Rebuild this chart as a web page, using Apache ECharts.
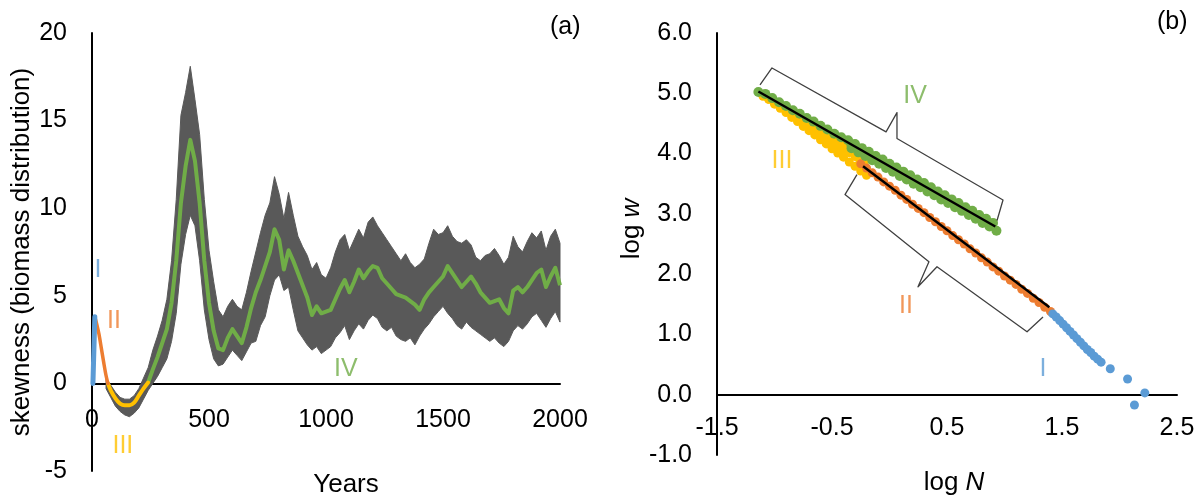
<!DOCTYPE html>
<html><head><meta charset="utf-8">
<script src="https://cdn.jsdelivr.net/npm/echarts@6/dist/echarts.min.js"></script>
<style>html,body{margin:0;padding:0;background:#fff}#c{width:1203px;height:500px}</style>
</head><body><div id="c"></div>
<script>
// ---------- Panel (a) data ----------
const aBandYears = [60,80,100,120,140,160,180,200,220,240,260,280,300,320,340,360,380,400,420,440,460,480,500,520,540,560,580,600,620,640,660,680,700,720,740,760,780,800,820,840,860,880,900,920,940,960,980,1000,1020,1040,1060,1080,1100,1120,1140,1160,1180,1200,1220,1240,1260,1280,1300,1320,1340,1360,1380,1400,1420,1440,1460,1480,1500,1520,1540,1560,1580,1600,1620,1640,1660,1680,1700,1720,1740,1760,1780,1800,1820,1840,1860,1880,1900,1920,1940,1960,1980,2000];
const aBandLower = [-0.3,-0.8,-1.3,-1.6,-1.8,-1.9,-1.7,-1.4,-0.9,-0.4,0.0,0.4,0.9,1.4,2.4,4.0,6.8,8.5,9.6,9.0,7.0,4.2,2.5,1.4,1.0,1.1,1.5,1.9,1.6,1.3,1.8,2.3,2.4,3.3,3.8,5.0,5.9,6.2,5.3,5.5,4.2,3.0,2.6,2.2,1.9,2.1,1.7,1.9,2.1,2.6,2.9,3.3,2.5,3.0,3.4,3.1,3.6,3.9,3.7,3.2,3.0,3.2,2.7,2.5,2.4,2.6,2.2,2.7,3.1,3.4,3.8,4.1,4.4,4.0,3.7,3.3,3.1,3.5,3.2,3.0,2.8,2.6,2.4,2.6,2.3,2.1,2.4,3.0,3.3,3.1,3.4,3.8,4.0,3.6,3.2,3.7,4.1,3.5];
const aBandUpper = [0.3,-0.1,-0.5,-0.8,-0.9,-0.9,-0.7,-0.3,0.3,0.9,1.9,2.7,3.6,4.8,7.0,10.5,15.3,16.6,18.1,16.2,14.2,10.5,7.6,5.8,4.2,3.8,4.4,4.8,4.4,4.2,5.2,6.4,7.5,8.6,9.6,10.3,11.8,10.8,9.4,10.9,9.6,8.4,7.8,7.3,6.5,6.9,6.2,6.0,6.6,7.5,8.2,8.5,7.6,8.2,8.8,8.3,9.2,9.5,9.0,8.6,8.2,7.8,7.4,7.0,7.4,6.9,6.6,6.8,7.1,8.0,8.8,8.5,8.6,9.0,8.4,8.1,8.0,8.2,7.9,7.2,7.0,7.3,7.4,7.7,7.3,6.8,7.2,8.4,7.8,7.5,8.1,8.6,8.3,8.7,7.6,8.4,8.8,8.0];
const aMeanYears = [240,260,280,300,320,340,360,380,400,420,440,460,480,500,520,540,560,580,600,620,640,660,680,700,720,740,760,780,800,820,840,860,880,900,920,940,960,980,1000,1020,1040,1060,1080,1100,1120,1140,1160,1180,1200,1220,1240,1260,1280,1300,1320,1340,1360,1380,1400,1420,1440,1460,1480,1500,1520,1540,1560,1580,1600,1620,1640,1660,1680,1700,1720,1740,1760,1780,1800,1820,1840,1860,1880,1900,1920,1940,1960,1980,2000];
const aMean = [0.05,0.8,1.5,2.3,3.1,4.6,7.0,10.3,12.4,13.9,12.7,10.3,7.0,4.6,3.0,2.0,1.9,2.6,3.1,2.7,2.3,3.2,4.3,5.2,5.9,6.7,7.5,8.8,8.2,6.5,7.6,7.0,6.3,5.6,4.9,3.9,4.4,4.0,4.1,4.2,4.8,5.4,5.9,5.2,5.8,6.5,6.0,6.4,6.7,6.6,6.0,5.7,5.4,5.1,5.0,4.9,4.7,4.5,4.2,4.8,5.2,5.5,5.8,6.1,6.7,6.3,5.9,5.5,5.8,6.1,5.7,5.2,4.9,4.6,4.7,4.8,4.3,4.0,5.3,5.5,5.2,5.5,5.9,6.3,6.5,5.5,6.1,6.6,5.6];
const aPhaseI = [[4,0.0],[8,1.9],[12,3.8]];
const aPhaseII = [[12,3.8],[20,3.4],[30,2.8],[40,2.0],[50,1.2],[60,0.45],[68,0.0]];
const aPhaseIII = [[68,0.0],[80,-0.4],[100,-0.85],[120,-1.15],[140,-1.25],[160,-1.25],[180,-1.1],[200,-0.7],[220,-0.3],[240,0.05]];
const aLabelText = ['I','II','III','IV'];
const aLabelPos = [[26,6.46],[94,3.54],[132,-3.6],[1085,0.8]];

// ---------- Panel (b) data ----------
const bYellow = [[-1.10,4.95],[-1.05,4.90],[-1.0,4.85],[-0.95,4.80],[-0.9,4.74],[-0.85,4.69],[-0.8,4.63],[-0.75,4.58],[-0.7,4.52],[-0.65,4.47],[-0.6,4.41],[-0.55,4.36],[-0.5,4.30],[-0.45,4.25],[-0.4,4.20],[-0.35,4.14],[-0.3,4.09],[-0.25,4.04],
  [-1.0,4.85],[-0.95,4.785],[-0.9,4.72],[-0.85,4.655],[-0.8,4.59],[-0.75,4.525],[-0.7,4.46],[-0.65,4.395],[-0.6,4.33],[-0.55,4.265],[-0.5,4.20],[-0.45,4.14],[-0.4,4.08],[-0.35,4.015],[-0.3,3.95],[-0.26,3.90],[-0.22,3.85],
  [-1.05,4.90],[-1.0,4.82],[-0.95,4.75],[-0.9,4.68],[-0.85,4.60],[-0.8,4.53],[-0.75,4.45],[-0.7,4.38],[-0.65,4.31],[-0.6,4.23],[-0.55,4.16],[-0.5,4.08],[-0.45,4.01],[-0.4,3.94],[-0.35,3.86],[-0.3,3.79],[-0.25,3.71],[-0.2,3.64]];
const bOrange = [[-0.25,3.83],[-0.20,3.76],[-0.15,3.68],[-0.10,3.61],[-0.05,3.53],[0.00,3.46],[0.05,3.39],[0.10,3.31],[0.15,3.24],[0.20,3.16],[0.25,3.09],[0.30,3.02],[0.35,2.94],[0.40,2.87],[0.45,2.79],[0.50,2.72],[0.55,2.64],[0.60,2.57],[0.65,2.50],[0.70,2.42],[0.75,2.35],[0.80,2.27],[0.85,2.20],[0.90,2.12],[0.95,2.05],[1.00,1.97],[1.05,1.90],[1.10,1.83],[1.15,1.75],[1.20,1.68],[1.25,1.60],[1.30,1.53],[1.35,1.45],[1.40,1.38]];
const bGreen = [[-1.14,5.02],[-1.08,4.99],[-1.02,4.92],[-0.96,4.85],[-0.90,4.79],[-0.84,4.72],[-0.78,4.66],[-0.72,4.59],[-0.66,4.53],[-0.60,4.46],[-0.54,4.40],[-0.48,4.33],[-0.42,4.27],
  [-0.36,4.22],[-0.30,4.16],[-0.24,4.09],[-0.18,4.03],[-0.12,3.96],[-0.06,3.90],[0.00,3.83],[0.06,3.77],[0.12,3.70],[0.18,3.64],[0.24,3.57],[0.30,3.51],[0.36,3.44],[0.42,3.37],[0.48,3.31],[0.54,3.24],[0.60,3.18],[0.66,3.11],[0.72,3.05],[0.78,2.98],[0.84,2.92],[0.90,2.85],
  [-0.33,4.09],[-0.27,4.02],[-0.21,3.96],[-0.15,3.89],[-0.09,3.83],[-0.03,3.76],[0.03,3.70],[0.09,3.63],[0.15,3.57],[0.21,3.50],[0.27,3.44],[0.33,3.37],[0.39,3.31],[0.45,3.24],[0.51,3.18],[0.57,3.11],[0.63,3.05],[0.69,2.98],[0.75,2.92],[0.81,2.85],[0.87,2.79],[0.93,2.72],
  [-0.33,4.14],[-0.27,4.08],[-0.21,4.01],[-0.15,3.95],[-0.09,3.88],[-0.03,3.82],[0.03,3.75],[0.09,3.68],[0.15,3.62],[0.21,3.55],[0.27,3.49],[0.33,3.42],[0.39,3.36],[0.45,3.29],[0.51,3.23],[0.57,3.16],[0.63,3.10],[0.69,3.03],[0.75,2.97],[0.81,2.90],[0.87,2.84]];
const bBlue = [[1.42,1.34],[1.45,1.29],[1.48,1.23],[1.51,1.17],[1.54,1.11],[1.57,1.05],[1.60,0.99],[1.63,0.93],[1.66,0.87],[1.69,0.81],[1.72,0.75],[1.75,0.70],[1.78,0.64],[1.81,0.59],[1.84,0.54],[1.92,0.43],[2.07,0.26],[2.22,0.03],[2.13,-0.17]];
const bFitIV = [[-1.14,5.03],[0.92,2.79]];
const bFitII = [[-0.23,3.79],[1.39,1.45]];
const bBracketIV = [[-1.126,5.14],[-1.022,5.42],[-0.030,4.36],[0.065,4.68],[0.065,4.25],[0.987,3.23],[0.935,2.89]];
const bBracketII = [[-0.283,3.65],[-0.387,3.32],[0.343,2.206],[0.248,1.79],[0.413,2.123],[1.196,1.045],[1.335,1.29]];
const bLabelText = ['I','II','III','IV'];
const bLabelPos = [[1.335,0.43],[0.143,1.476],[-0.935,3.88],[0.222,4.96]];

const cBlue = '#5B9BD5', cOrange = '#ED7D31', cYellow = '#FFC000', cGreen = '#70AD47', cGray = '#595959';
const FF = '"Liberation Sans", Arial, sans-serif';
const aLabelColors = [cBlue, cOrange, cYellow, cGreen];
const bLabelColors = [cBlue, cOrange, cYellow, cGreen];

const chart = echarts.init(document.getElementById('c'), null, {renderer: 'canvas'});

// grid geometry
const GA = {left: 92, top: 33, width: 468, height: 438, yMin: -5, yMax: 20};
const GB = {left: 717, top: 33, width: 460, height: 422, yMin: -1, yMax: 6};
// offset that lifts the x axis (line, labels, name) from the grid bottom to y = 0
const offA = -GA.height * (0 - GA.yMin) / (GA.yMax - GA.yMin);
const offB = -GB.height * (0 - GB.yMin) / (GB.yMax - GB.yMin);

function axisCommon() {
  return {
    axisLine: {onZero: false, lineStyle: {color: '#000', width: 2}},
    axisTick: {show: false},
    splitLine: {show: false},
    axisLabel: {fontSize: 25, color: '#000', fontFamily: FF},
    nameTextStyle: {fontSize: 26, color: '#000', fontFamily: FF}
  };
}

const bandData = aBandYears.map((y, i) => [y, aBandLower[i], aBandUpper[i]]);

const option = {
  backgroundColor: '#fff',
  animation: false,
  textStyle: {fontFamily: FF},
  title: [
    {text: '(a)', left: 550, top: 15, padding: 0, textStyle: {fontSize: 25, fontWeight: 'normal', color: '#000', fontFamily: FF}},
    {text: '(b)', left: 1157, top: 10, padding: 0, textStyle: {fontSize: 25, fontWeight: 'normal', color: '#000', fontFamily: FF}}
  ],
  grid: [
    {left: GA.left, top: GA.top, width: GA.width, height: GA.height, containLabel: false, outerBoundsMode: 'none'},
    {left: GB.left, top: GB.top, width: GB.width, height: GB.height, containLabel: false, outerBoundsMode: 'none'}
  ],
  xAxis: [
    Object.assign(axisCommon(), {
      gridIndex: 0, type: 'value', min: 0, max: 2000, interval: 500, position: 'bottom', offset: offA,
      name: 'Years', nameLocation: 'middle', nameGap: 88,
      nameTextStyle: {fontSize: 26, color: '#000', fontFamily: FF, padding: [0, 0, 0, 40]},
      axisLabel: {fontSize: 25, color: '#000', fontFamily: FF, margin: 24, formatter: v => String(v)}
    }),
    Object.assign(axisCommon(), {
      gridIndex: 1, type: 'value', min: -1.5, max: 2.5, interval: 1, position: 'bottom', offset: offB,
      name: 'log {i|N}', nameLocation: 'middle', nameGap: 75,
      nameTextStyle: {fontSize: 26, color: '#000', fontFamily: FF, padding: [0, 0, 0, 14],
        rich: {i: {fontStyle: 'italic', fontSize: 26, color: '#000', fontFamily: FF}}},
      axisLabel: {fontSize: 25, color: '#000', fontFamily: FF, margin: 21, formatter: v => v.toFixed(1)}
    })
  ],
  yAxis: [
    Object.assign(axisCommon(), {
      gridIndex: 0, type: 'value', min: GA.yMin, max: GA.yMax, interval: 5,
      name: 'skewness (biomass distribution)', nameLocation: 'middle', nameGap: 54,
      axisLabel: {fontSize: 25, color: '#000', fontFamily: FF, margin: 25, formatter: v => String(v)}
    }),
    Object.assign(axisCommon(), {
      gridIndex: 1, type: 'value', min: GB.yMin, max: GB.yMax, interval: 1,
      name: 'log {i|w}', nameLocation: 'middle', nameGap: 71,
      nameTextStyle: {fontSize: 26, color: '#000', fontFamily: FF, padding: [0, 0, 0, 30],
        rich: {i: {fontStyle: 'italic', fontSize: 26, color: '#000', fontFamily: FF}}},
      axisLabel: {fontSize: 25, color: '#000', fontFamily: FF, margin: 25, formatter: v => v.toFixed(1)}
    })
  ],
  series: [
    // ----- panel (a) -----
    {
      type: 'custom', xAxisIndex: 0, yAxisIndex: 0, z: 2,
      data: bandData,
      encode: {x: 0, y: [1, 2]},
      renderItem: function (params, api) {
        if (params.dataIndex !== 0) return null;
        const pts = [];
        for (let i = 0; i < bandData.length; i++) pts.push(api.coord([bandData[i][0], bandData[i][2]]));
        for (let i = bandData.length - 1; i >= 0; i--) pts.push(api.coord([bandData[i][0], bandData[i][1]]));
        return {type: 'polygon', shape: {points: pts}, style: {fill: cGray, stroke: cGray, lineWidth: 1}};
      }
    },
    {type: 'line', xAxisIndex: 0, yAxisIndex: 0, z: 3, data: aMeanYears.map((y, i) => [y, aMean[i]]),
      showSymbol: false, symbol: 'none', lineStyle: {color: cGreen, width: 4, join: 'round'}},
    {type: 'line', xAxisIndex: 0, yAxisIndex: 0, z: 4, data: aPhaseIII,
      symbol: 'none', smooth: 0.3, lineStyle: {color: cYellow, width: 4, cap: 'round'}},
    {type: 'line', xAxisIndex: 0, yAxisIndex: 0, z: 5, data: aPhaseII,
      symbol: 'none', smooth: 0.3, lineStyle: {color: cOrange, width: 3.5, cap: 'round'}},
    {type: 'line', xAxisIndex: 0, yAxisIndex: 0, z: 6, data: aPhaseI,
      symbol: 'none', lineStyle: {color: cBlue, width: 5, cap: 'round'}},
    {type: 'scatter', xAxisIndex: 0, yAxisIndex: 0, z: 7, symbolSize: 1,
      itemStyle: {color: 'rgba(0,0,0,0)'},
      data: aLabelPos.map((p, i) => ({value: p, name: aLabelText[i],
        label: {show: true, position: 'inside', formatter: aLabelText[i], color: aLabelColors[i], fontSize: 25, fontFamily: FF}}))},
    // ----- panel (b) -----
    {type: 'scatter', xAxisIndex: 1, yAxisIndex: 1, z: 2, data: bYellow, symbolSize: 9,
      itemStyle: {color: cYellow, opacity: 1}},
    {type: 'scatter', xAxisIndex: 1, yAxisIndex: 1, z: 3, data: bOrange, symbolSize: 9,
      itemStyle: {color: cOrange, opacity: 1}},
    {type: 'scatter', xAxisIndex: 1, yAxisIndex: 1, z: 4, data: bGreen, symbolSize: 10,
      itemStyle: {color: cGreen, opacity: 1}},
    {type: 'scatter', xAxisIndex: 1, yAxisIndex: 1, z: 5, data: bBlue, symbolSize: 9,
      itemStyle: {color: cBlue, opacity: 1}},
    {type: 'line', xAxisIndex: 1, yAxisIndex: 1, z: 6, data: bFitIV, symbol: 'none',
      lineStyle: {color: '#000', width: 2.5}},
    {type: 'line', xAxisIndex: 1, yAxisIndex: 1, z: 6, data: bFitII, symbol: 'none',
      lineStyle: {color: '#000', width: 2.5}},
    {type: 'line', xAxisIndex: 1, yAxisIndex: 1, z: 7, data: bBracketIV, symbol: 'none',
      lineStyle: {color: '#404040', width: 1.3, join: 'round'}},
    {type: 'line', xAxisIndex: 1, yAxisIndex: 1, z: 7, data: bBracketII, symbol: 'none',
      lineStyle: {color: '#404040', width: 1.3, join: 'round'}},
    {type: 'scatter', xAxisIndex: 1, yAxisIndex: 1, z: 8, symbolSize: 1,
      itemStyle: {color: 'rgba(0,0,0,0)'},
      data: bLabelPos.map((p, i) => ({value: p, name: bLabelText[i],
        label: {show: true, position: 'inside', formatter: bLabelText[i], color: bLabelColors[i], fontSize: 25, fontFamily: FF}}))}
  ]
};
chart.setOption(option);
</script>
</body></html>
